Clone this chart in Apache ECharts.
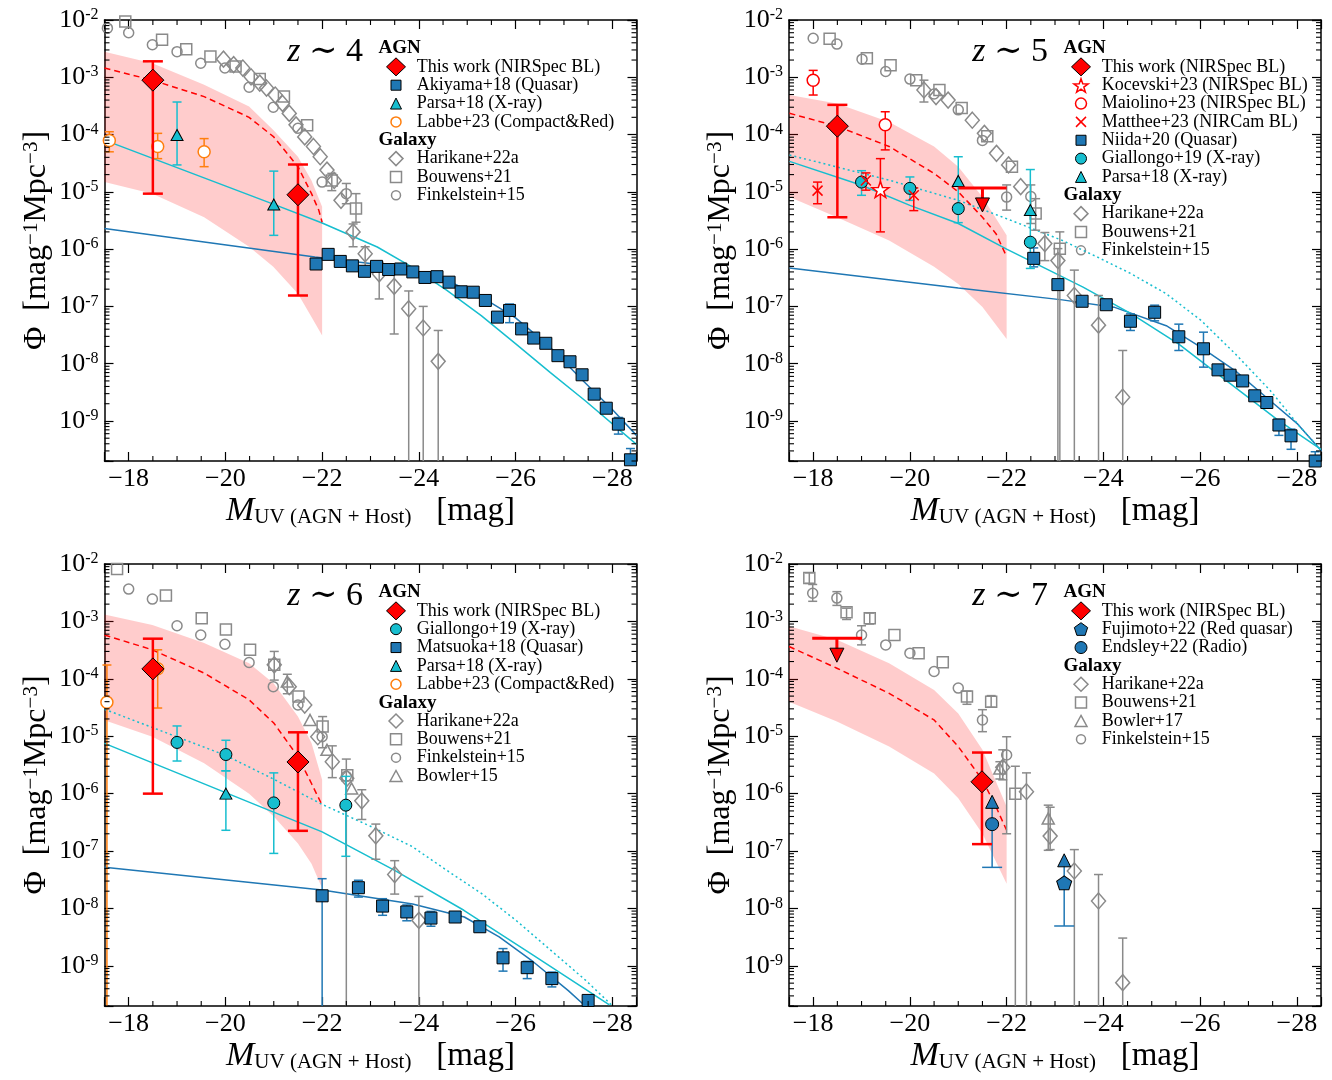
<!DOCTYPE html>
<html><head><meta charset="utf-8">
<script src="https://cdn.jsdelivr.net/npm/echarts@6/dist/echarts.min.js"></script>
<style>html,body{margin:0;padding:0;background:#fff}#c{width:1332px;height:1080px}</style>
</head><body><div id="c"></div>
<script>
// ===================== DATA (M_UV [mag], Phi [mag^-1 Mpc^-3], Phi_lo, Phi_hi) =====================
// ---------- z ~ 4 ----------
const z4_thisWork = [[-18.5, 8.9e-4, 9.3e-6, 1.9e-3], [-21.5, 8.9e-6, 1.55e-7, 3.0e-5]];
const z4_model = [[-17.5,1.45e-3],[-18.49,8.9e-4],[-19.56,4.6e-4],[-20.49,2.0e-4],[-21.0,9.1e-5],[-21.5,2.75e-5],[-21.78,9.3e-6],[-21.93,4.8e-6],[-22.0,2.95e-6]];
const z4_band = [[-17.5,1.48e-5,2.8e-3],[-18.49,9.3e-6,1.76e-3],[-19.56,3.6e-6,7.4e-4],[-20.49,1.1e-6,3.1e-4],[-20.99,4.9e-7,1.2e-4],[-21.5,1.66e-7,4.1e-5],[-21.78,6.5e-8,1.58e-5],[-22.0,3.1e-8,5.5e-6]];
const z4_cyanFit = [[-17.5,8.0e-5],[-20.99,6.1e-6],[-22.0,2.86e-6],[-23.14,1.09e-6],[-23.86,4.85e-7],[-24.58,1.9e-7],[-25.29,6.9e-8],[-26.01,2.2e-8],[-26.72,7.0e-9],[-27.44,2.25e-9],[-28.5,3.9e-10]];
const z4_blueFit = [[-17.5,2.3e-6],[-21.85,7.3e-7],[-23.0,5.6e-7],[-24.0,4.0e-7],[-24.6,2.8e-7],[-25.3,1.45e-7],[-26.0,6.3e-8],[-26.7,2.0e-8],[-27.4,5.0e-9],[-28.0,1.58e-9],[-28.5,5.6e-10]];
const z4_akiyama = [[-21.875,5.5e-7],[-22.125,8.1e-7],[-22.375,6.1e-7],[-22.625,5.1e-7],[-22.875,4.1e-7],[-23.125,5.0e-7],[-23.375,4.4e-7],[-23.625,4.5e-7],[-23.875,4.0e-7],[-24.125,3.2e-7],[-24.375,3.3e-7],[-24.625,2.65e-7],[-24.875,1.8e-7],[-25.125,1.77e-7],[-25.375,1.27e-7],[-25.625,6.5e-8,5.3e-8,7.6e-8],[-25.875,8.5e-8,5.2e-8,1.1e-7],[-26.125,4.05e-8],[-26.375,2.8e-8],[-26.625,2.27e-8],[-26.875,1.38e-8],[-27.125,1.08e-8],[-27.375,6.4e-9],[-27.625,2.94e-9],[-27.875,1.67e-9],[-28.125,8.8e-10,5.9e-10,1.15e-9],[-28.375,2.1e-10,2.0e-10,3.3e-10]];
const z4_parsa = [[-19.0,9.8e-5,2.95e-5,3.7e-4],[-21.0,6.0e-6,1.74e-6,2.3e-5]];
const z4_labbe = [[-17.6,7.9e-5,5.0e-5,1.12e-4],[-18.6,6.2e-5,3.8e-5,1.05e-4],[-19.56,5.0e-5,2.75e-5,8.5e-5]];
const z4_harikane = [[-19.96,2.07e-3],[-20.17,1.66e-3],[-20.36,1.45e-3],[-20.53,1.02e-3],[-20.71,7.9e-4],[-20.85,6.5e-4],[-21.03,4.9e-4],[-21.18,3.5e-4],[-21.32,2.34e-4],[-21.46,1.48e-4],[-21.64,9.1e-5],[-21.82,6.2e-5],[-21.96,4.1e-5],[-22.1,2.4e-5],[-22.25,1.58e-5],[-22.39,7.1e-6],[-22.64,2.0e-6,1.1e-6,2.75e-6],[-22.89,8.3e-7,3.7e-7,1.1e-6],[-23.18,3.7e-7,1.35e-7,5.9e-7],[-23.49,2.24e-7,3.3e-8,3.8e-7],[-23.79,9.1e-8,0,1.86e-7],[-24.09,4.2e-8,0,1.0e-7],[-24.40,1.1e-8,0,3.8e-8]];
const z4_bouwens = [[-17.93,9.4e-3],[-18.69,4.5e-3],[-19.19,3.1e-3],[-19.69,2.3e-3],[-20.21,1.55e-3],[-20.71,9.3e-4],[-21.21,4.6e-4],[-21.69,1.45e-4],[-22.2,1.58e-5,1.05e-5,2.1e-5],[-22.7,5.1e-6,2.95e-6,9.3e-6]];
const z4_finkelstein = [[-17.56,7.2e-3],[-18.0,6.0e-3],[-18.49,3.7e-3],[-19.0,2.8e-3],[-19.49,1.76e-3],[-19.99,1.45e-3],[-20.49,6.7e-4],[-20.99,3.0e-4],[-21.5,1.29e-4],[-22.0,1.48e-5],[-22.5,9.3e-6,6.2e-6,1.4e-5]];

// ---------- z ~ 5 ----------
const z5_thisWork = [[-18.5, 1.4e-4, 3.6e-6, 3.3e-4]];
const z5_thisWorkUL = [[-21.5, 1.17e-5, -21.0, -22.0]]; // [M, Phi upper limit, bin edge, bin edge]
const z5_model = [[-17.51,2.35e-4],[-18.49,1.4e-4],[-19.57,6.2e-5],[-20.5,2.1e-5],[-21.0,1.0e-5],[-21.5,3.6e-6],[-21.78,1.86e-6],[-22.0,7.4e-7]];
const z5_band = [[-17.51,8.1e-6,4.9e-4],[-18.49,3.6e-6,3.5e-4],[-19.57,1.41e-6,1.66e-4],[-20.5,4.9e-7,6.2e-5],[-21.0,2.45e-7,2.75e-5],[-21.5,9.8e-8,8.1e-6],[-22.0,2.7e-8,1.74e-6]];
const z5_cyanFit = [[-17.51,3.4e-5],[-19.0,1.3e-5],[-20.0,5.8e-6],[-21.0,2.8e-6],[-22.0,1.0e-6],[-23.58,2.17e-7],[-24.58,7.4e-8],[-25.56,2.2e-8],[-26.59,4.7e-9],[-27.59,1.07e-9],[-28.5,3.2e-10]];
const z5_cyanDotFit = [[-17.51,4.4e-5],[-19.57,1.6e-5],[-21.0,7.1e-6],[-22.0,3.4e-6],[-23.15,1.42e-6],[-23.87,7.3e-7],[-24.58,3.7e-7],[-25.3,1.66e-7],[-26.02,5.7e-8],[-26.73,1.48e-8],[-27.45,3.4e-9],[-28.02,8.8e-10],[-28.51,3.0e-10]];
const z5_blueFit = [[-17.51,4.7e-7],[-21.0,2.1e-7],[-23.15,1.3e-7],[-24.22,9.7e-8],[-25.3,4.6e-8],[-26.02,1.93e-8],[-26.73,7.5e-9],[-27.45,2.25e-9],[-28.02,8.8e-10],[-28.51,3.0e-10]];
const z5_kocevski = [[-19.39,1.1e-5,2.0e-6,3.8e-5]];
const z5_maiolino = [[-18.0,8.9e-4,4.9e-4,1.32e-3],[-19.49,1.48e-4,5.4e-5,2.5e-4]];
const z5_matthee = [[-18.09,1.05e-5,6.2e-6,1.48e-5],[-19.09,1.58e-5,1.07e-5,2.14e-5],[-20.08,8.7e-6,4.7e-6,1.17e-5]];
const z5_niida = [[-22.56,6.9e-7,4.9e-7,1.05e-6],[-23.06,2.4e-7],[-23.56,1.23e-7],[-24.06,1.07e-7],[-24.56,5.5e-8,3.8e-8,7.4e-8],[-25.06,7.9e-8,5.6e-8,1.05e-7],[-25.56,2.95e-8,1.7e-8,4.9e-8],[-26.07,1.82e-8,8.7e-9,3.55e-8],[-26.37,7.8e-9],[-26.62,6.3e-9],[-26.88,5.0e-9],[-27.13,2.75e-9],[-27.38,2.1e-9],[-27.63,8.5e-10,5.6e-10,1.07e-9],[-27.88,5.5e-10,3.2e-10,7.2e-10],[-28.38,2.0e-10,null,2.9e-10]];
const z5_giallongo = [[-19.0,1.48e-5,8.7e-6,2.34e-5],[-20.0,1.15e-5,7.1e-6,1.82e-5],[-21.0,5.1e-6,2.9e-6,4.1e-5],[-22.49,1.32e-6,4.6e-7,2.45e-5]];
const z5_parsa = [[-21.0,1.55e-5],[-22.49,4.8e-6]];
const z5_harikane = [[-20.29,6.0e-4,3.7e-4,8.9e-4],[-20.54,4.6e-4],[-20.79,4.0e-4],[-21.29,1.78e-4],[-21.54,1.05e-4],[-21.79,4.7e-5],[-22.04,2.95e-5],[-22.29,1.23e-5],[-22.79,1.25e-6,6.3e-7,1.95e-6],[-23.06,6.3e-7,0,1.02e-6],[-23.4,1.55e-7,0,4.3e-7],[-23.9,4.7e-8,0,1.55e-7],[-24.4,2.6e-9,0,1.7e-8]];
const z5_bouwens = [[-18.34,4.7e-3],[-19.11,2.14e-3],[-19.6,1.62e-3],[-20.13,8.9e-4],[-20.61,6.0e-4],[-21.07,2.9e-4],[-21.6,9.3e-5],[-22.11,2.75e-5],[-22.6,4.2e-6,2.14e-6,7.6e-6],[-23.1,1.02e-6,0,2.0e-6]];
const z5_finkelstein = [[-18.0,4.8e-3],[-18.49,3.8e-3],[-19.01,2.07e-3],[-19.5,1.26e-3],[-20.0,9.3e-4],[-20.5,5.1e-4],[-21.0,2.7e-4],[-21.5,7.9e-5],[-22.0,8.1e-6,4.8e-6,1.32e-5],[-22.5,8.3e-6,2.8e-6,1.32e-5]];

// ---------- z ~ 6 ----------
const z6_thisWork = [[-18.5,1.49e-4,1.0e-6,5.0e-4],[-21.5,3.56e-6,2.25e-7,1.17e-5]];
const z6_model = [[-17.5,5.8e-4],[-18.49,3.2e-4],[-19.56,1.26e-4],[-20.49,4.3e-5],[-21.0,1.7e-5],[-21.5,4.4e-6],[-21.78,1.5e-6],[-22.0,6.3e-7]];
const z6_band = [[-17.5,1.9e-5,1.32e-3],[-18.49,9.8e-6,8.7e-4],[-19.56,3.4e-6,4.2e-4],[-20.49,1.0e-6,1.86e-4],[-21.0,4.0e-7,8.3e-5],[-21.5,1.35e-7,2.2e-5],[-21.78,6.0e-8,7.6e-6],[-22.0,2.24e-8,1.74e-6]];
const z6_cyanFit = [[-17.5,7.5e-6],[-22.0,2.16e-7],[-23.5,4.6e-8],[-24.93,9.3e-9],[-26.37,1.52e-9],[-27.94,2.1e-10]];
const z6_cyanDotFit = [[-17.5,2.95e-5],[-18.99,9.8e-6],[-19.99,4.7e-6],[-20.99,1.8e-6],[-22.0,6.5e-7],[-23.0,2.7e-7],[-23.86,1.2e-7],[-24.58,4.6e-8],[-25.3,1.81e-8],[-26.01,6.2e-9],[-26.73,1.86e-9],[-27.45,5.6e-10],[-27.98,2.1e-10]];
const z6_blueFit = [[-17.5,5.2e-8],[-22.0,2.1e-8],[-23.87,1.2e-8],[-24.94,7.1e-9],[-25.66,3.2e-9],[-26.37,1.17e-9],[-27.09,3.7e-10],[-27.44,2.0e-10]];
const z6_giallongo = [[-19.0,7.8e-6,3.7e-6,1.51e-5],[-20.01,4.8e-6,2.5e-6,8.5e-6],[-21.0,6.9e-7,9.1e-8,2.3e-6],[-22.49,6.3e-7,8.1e-8,2.0e-6]];
const z6_parsa = [[-20.01,1.0e-6,2.3e-7,2.5e-6]];
const z6_labbe = [[-17.55,3.9e-5,0,1.74e-4],[-18.6,1.5e-4,3.1e-5,3.2e-4]];
const z6_matsuoka = [[-22.0,1.66e-8,0,3.3e-8],[-22.75,2.3e-8,1.58e-8,3.1e-8],[-23.25,1.1e-8,7.6e-9,1.48e-8],[-23.75,8.7e-9,6.1e-9,1.15e-8],[-24.25,6.8e-9,4.9e-9,8.9e-9],[-24.75,7.1e-9],[-25.26,4.8e-9,3.9e-9,5.9e-9],[-25.74,1.38e-9,8.1e-10,2.0e-9],[-26.24,9.3e-10,6.0e-10,1.2e-9],[-26.75,6.0e-10,4.3e-10,7.8e-10],[-27.5,2.5e-10]];
const z6_harikane = [[-21.01,1.75e-4],[-21.32,7.3e-5],[-21.64,3.5e-5],[-21.91,9.8e-6],[-22.21,3.6e-6,1.9e-6,6.8e-6],[-22.51,1.85e-6],[-22.82,7.5e-7,3.55e-7,1.17e-6],[-23.11,1.84e-7,7.2e-8,2.95e-7],[-23.5,3.9e-8,1.78e-8,6.8e-8],[-24.0,6.2e-9,0,1.62e-8]];
const z6_bouwens = [[-17.76,8.2e-3],[-18.77,2.84e-3],[-19.51,1.14e-3],[-20.01,7.2e-4],[-20.51,3.2e-4],[-21.01,1.75e-4,9.5e-5,3.0e-4],[-21.51,4.9e-5],[-22.01,1.48e-5,6.3e-6,2.2e-5],[-22.52,2.1e-6]];
const z6_finkelstein = [[-18.0,3.66e-3],[-18.49,2.45e-3],[-19.0,8.4e-4],[-19.49,5.8e-4],[-19.99,4.0e-4],[-20.49,1.92e-4],[-20.99,7.3e-5],[-21.5,3.5e-5],[-22.0,9.8e-6],[-22.5,2.0e-6,0,4.0e-6]];
const z6_bowler = [[-21.28,9.0e-5,5.5e-5,1.2e-4],[-21.75,1.92e-5],[-22.1,5.8e-6],[-22.61,1.23e-6]];

// ---------- z ~ 7 ----------
const z7_thisWork = [[-21.49,1.61e-6,1.32e-7,5.2e-6]];
const z7_thisWorkUL = [[-18.49,5.1e-4,-17.98,-19.01]];
const z7_model = [[-17.5,3.66e-4],[-18.49,1.53e-4],[-19.57,5.6e-5],[-20.5,1.92e-5],[-21.0,6.6e-6],[-21.5,1.73e-6],[-21.78,5.9e-7],[-22.0,2.3e-7]];
const z7_band = [[-17.5,4.0e-5,8.2e-4],[-18.49,1.8e-5,4.8e-4],[-19.57,6.6e-6,1.87e-4],[-20.5,2.25e-6,6.4e-5],[-21.0,8.3e-7,2.5e-5],[-21.5,2.0e-7,5.8e-6],[-22.0,2.7e-8,5.9e-7]];
const z7_fujimoto = [[-23.19,2.8e-8,4.95e-9,6.9e-8]]; // [M, Phi, Phi_lo, lower-limit arrow]
const z7_endsley = [[-21.7,2.94e-7,5.2e-8,7.2e-7]];
const z7_harikane = [[-21.92,2.87e-6,1.74e-6,5.8e-6],[-22.41,1.08e-6,0,2.3e-6],[-22.9,1.82e-7,1.06e-7,5.8e-7],[-23.4,4.5e-8,0,1.06e-7],[-23.9,1.35e-8,0,3.9e-8],[-24.4,5.1e-10,0,3.05e-9]];
const z7_bouwens = [[-17.92,5.7e-3,4.6e-3,7.0e-3],[-18.69,1.44e-3,1.08e-3,1.7e-3],[-19.17,1.14e-3,9.0e-4,1.4e-3],[-19.68,5.8e-4],[-20.18,2.8e-4],[-20.68,1.95e-4],[-21.18,4.9e-5,3.6e-5,6.1e-5],[-21.68,4.0e-5,3.2e-5,5.1e-5],[-22.18,1.0e-6,0,3.0e-6]];
const z7_bowler = [[-21.86,2.75e-6,1.8e-6,3.6e-6],[-22.86,3.7e-7,1.03e-7,6.3e-7]];
const z7_finkelstein = [[-17.99,3.1e-3,2.24e-3,4.4e-3],[-18.49,2.55e-3,1.9e-3,3.3e-3],[-19.0,5.8e-4,3.9e-4,8.4e-4],[-19.5,3.9e-4],[-20.0,2.8e-4],[-20.5,1.34e-4],[-21.0,6.9e-5],[-21.5,1.92e-5,1.2e-5,2.9e-5],[-22.0,4.7e-6,2.0e-7,9.8e-6]];

// tick labels / text
const panelLabels = ['4', '5', '6', '7'];
const legendText = [
  [['h','AGN'],['thiswork','This work (NIRSpec BL)'],['quasar','Akiyama+18 (Quasar)'],['parsa','Parsa+18 (X-ray)'],['labbe','Labbe+23 (Compact&Red)'],['h','Galaxy'],['harikane','Harikane+22a'],['bouwens','Bouwens+21'],['finkelstein','Finkelstein+15']],
  [['h','AGN'],['thiswork','This work (NIRSpec BL)'],['kocevski','Kocevski+23 (NIRSpec BL)'],['maiolino','Maiolino+23 (NIRSpec BL)'],['matthee','Matthee+23 (NIRCam BL)'],['quasar','Niida+20 (Quasar)'],['giallongo','Giallongo+19 (X-ray)'],['parsa','Parsa+18 (X-ray)'],['h','Galaxy'],['harikane','Harikane+22a'],['bouwens','Bouwens+21'],['finkelstein','Finkelstein+15']],
  [['h','AGN'],['thiswork','This work (NIRSpec BL)'],['giallongo','Giallongo+19 (X-ray)'],['quasar','Matsuoka+18 (Quasar)'],['parsa','Parsa+18 (X-ray)'],['labbe','Labbe+23 (Compact&Red)'],['h','Galaxy'],['harikane','Harikane+22a'],['bouwens','Bouwens+21'],['finkelstein','Finkelstein+15'],['bowler','Bowler+15']],
  [['h','AGN'],['thiswork','This work (NIRSpec BL)'],['fujimoto','Fujimoto+22 (Red quasar)'],['endsley','Endsley+22 (Radio)'],['h','Galaxy'],['harikane','Harikane+22a'],['bouwens','Bouwens+21'],['bowler','Bowler+17'],['finkelstein','Finkelstein+15']],
];

// ===================== STYLE / LAYOUT =====================
const FONT = '"Liberation Serif", "Times New Roman", "DejaVu Serif", serif';
const C = {red:'#ff0000', cyan:'#17becf', blue:'#1f77b4', orange:'#ff7f0e', gray:'#8a8a8a', band:'rgba(255,0,0,0.2)'};
const GRIDS = [
  {left:104.5, top:20, width:532, height:441},
  {left:789, top:20, width:532, height:441},
  {left:104.5, top:564, width:532, height:442},
  {left:789, top:564, width:532, height:442},
];
const LEGPOS = [{x:378.5, y:48.5},{x:1063.5, y:48.5},{x:378.5, y:592.5},{x:1063.5, y:592.5}];
const ZPOS = [{x:363, y:52},{x:1048, y:52},{x:363, y:596},{x:1048, y:596}];

function regPoly(n, cx, cy, R, r) {
  const pts = [];
  const m = r ? 2*n : n;
  for (let k = 0; k < m; k++) {
    const a = -Math.PI/2 + k*2*Math.PI/m;
    const rr = (r && k%2) ? r : R;
    pts.push([cx + rr*Math.cos(a), cy + rr*Math.sin(a)]);
  }
  return pts;
}
function toPath(pts) { return 'path://' + pts.map((p,k)=>(k?'L':'M')+p[0].toFixed(2)+','+p[1].toFixed(2)).join('') + 'Z'; }
const SYM = {
  diamond:'diamond', rect:'rect', triangle:'triangle', circle:'circle',
  star: toPath(regPoly(5, 50, 50, 50, 20)),
  pentagon: toPath(regPoly(5, 50, 50, 50)),
  x: 'path://M0,0L10,10M10,0L0,10',
};
const STY = {
  thiswork:   {shape:'diamond', size:[22,22], leg:[19,18], fill:C.red, stroke:'#000', lw:1},
  quasar:     {shape:'rect', size:12, leg:[10,10], fill:C.blue, stroke:'#000', lw:1},
  parsa:      {shape:'triangle', size:[12,11], leg:[11,11], fill:C.cyan, stroke:'#000', lw:1},
  labbe:      {shape:'circle', size:12, leg:[10,10], fill:'#fff', stroke:C.orange, lw:1.5},
  giallongo:  {shape:'circle', size:12, leg:[11,11], fill:C.cyan, stroke:'#000', lw:1},
  kocevski:   {shape:'star', size:[17,16], leg:[15,14], fill:'#fff', stroke:C.red, lw:1.5},
  maiolino:   {shape:'circle', size:12, leg:[11,11], fill:'#fff', stroke:C.red, lw:1.5},
  matthee:    {shape:'x', size:10, leg:[10,10], fill:'rgba(0,0,0,0)', stroke:C.red, lw:1.5},
  fujimoto:   {shape:'pentagon', size:[15,14], leg:[14,13], fill:C.blue, stroke:'#000', lw:1},
  endsley:    {shape:'circle', size:13, leg:[12,12], fill:C.blue, stroke:'#000', lw:1},
  harikane:   {shape:'diamond', size:[14,16], leg:[14,14], fill:'rgba(0,0,0,0)', stroke:C.gray, lw:1.5},
  bouwens:    {shape:'rect', size:11, leg:[11,11], fill:'rgba(0,0,0,0)', stroke:C.gray, lw:1.5},
  finkelstein:{shape:'circle', size:10, leg:[9,9], fill:'rgba(0,0,0,0)', stroke:C.gray, lw:1.5},
  bowler:     {shape:'triangle', size:[12,11], leg:[12,11], fill:'rgba(0,0,0,0)', stroke:C.gray, lw:1.5},
  limitBlue:  {shape:'triangle', size:[13,13], leg:[12,12], fill:C.blue, stroke:'#000', lw:1},
};

// ===================== BUILD =====================
const series = [];
const graphic = [];

function addPoints(gi, data, key, z) {
  const s = STY[key];
  series.push({type:'scatter', xAxisIndex:gi, yAxisIndex:gi, z, silent:true, animation:false,
    symbol: SYM[s.shape], symbolSize: s.size,
    itemStyle:{color:s.fill, borderColor:s.stroke, borderWidth:s.lw, opacity:1},
    data: data.map(d => [d[0], d[1]])});
}
function errRender(color, lw, cap, capTop, capBot) {
  return function(params, api) {
    const cs = params.coordSys;
    const m = api.value(0), lo = api.value(1), hi = api.value(2);
    const yb = cs.y + cs.height, yt = cs.y;
    const pTop = api.coord([m, hi]);
    const px = pTop[0];
    let top = pTop[1];
    let bot = lo > 0 ? api.coord([m, lo])[1] : yb + 10;
    const topIn = top >= yt - 0.5 && top <= yb;
    const botIn = bot >= yt && bot <= yb + 0.5;
    top = Math.max(yt, Math.min(yb, top));
    bot = Math.max(yt, Math.min(yb, bot));
    const st = {stroke:color, lineWidth:lw};
    const ch = [{type:'line', shape:{x1:px, y1:top, x2:px, y2:bot}, style:st}];
    if (capTop && topIn) ch.push({type:'line', shape:{x1:px-cap, y1:top, x2:px+cap, y2:top}, style:st});
    if (capBot && botIn) ch.push({type:'line', shape:{x1:px-cap, y1:bot, x2:px+cap, y2:bot}, style:st});
    return {type:'group', children:ch};
  };
}
function addErr(gi, data, color, lw, cap, z, capTop = true, capBot = true) {
  const rows = data.filter(d => d.length > 2 && (d[2] != null || d[3] != null))
    .map(d => [d[0], d[2] == null ? d[1] : d[2], d[3] == null ? d[1] : d[3]]);
  if (!rows.length) return;
  series.push({type:'custom', xAxisIndex:gi, yAxisIndex:gi, z, silent:true, animation:false,
    data: rows, encode:{x:0, y:2}, renderItem: errRender(color, lw, cap, capTop, capBot)});
}
function addLine(gi, data, color, type, z) {
  series.push({type:'line', xAxisIndex:gi, yAxisIndex:gi, z, silent:true, animation:false,
    data, symbol:'none', showSymbol:false, smooth:false,
    lineStyle:{color, width:1.5, type}});
}
function addBand(gi, data) {
  series.push({type:'custom', xAxisIndex:gi, yAxisIndex:gi, z:1, silent:true, animation:false,
    data, encode:{x:0, y:[1,2]},
    renderItem(params, api) {
      if (params.dataIndex !== 0) return null;
      const up = data.map(d => api.coord([d[0], d[2]]));
      const lo = data.map(d => api.coord([d[0], d[1]])).reverse();
      return {type:'polygon', shape:{points: up.concat(lo)}, style:{fill:C.band}};
    }});
}
function addUpperLimit(gi, data, z) {
  series.push({type:'custom', xAxisIndex:gi, yAxisIndex:gi, z, silent:true, animation:false,
    data, encode:{x:0, y:1},
    renderItem(params, api) {
      const p = api.coord([api.value(0), api.value(1)]);
      const a = api.coord([api.value(2), api.value(1)]);
      const b = api.coord([api.value(3), api.value(1)]);
      const st = {stroke:C.red, lineWidth:3};
      return {type:'group', children:[
        {type:'line', shape:{x1:a[0], y1:p[1], x2:b[0], y2:p[1]}, style:st},
        {type:'line', shape:{x1:p[0], y1:p[1], x2:p[0], y2:p[1]+12}, style:st},
        {type:'polygon', shape:{points:[[p[0]-7,p[1]+10],[p[0]+7,p[1]+10],[p[0],p[1]+24]]}, style:{fill:C.red, stroke:'#000', lineWidth:1}},
      ]};
    }});
}
function addFrame(gi) {
  series.push({type:'custom', xAxisIndex:gi, yAxisIndex:gi, z:20, silent:true, animation:false,
    data:[[-20, 1e-5]], encode:{x:0, y:1},
    renderItem(params, api) {
      const cs = params.coordSys, ch = [], st = {stroke:'#000', lineWidth:1.1};
      for (let m = -28; m <= -18; m += 0.5) {
        if (Math.abs(m/2 - Math.round(m/2)) < 1e-9) continue;
        const x = api.coord([m, 1e-5])[0];
        ch.push({type:'line', shape:{x1:x, y1:cs.y+cs.height, x2:x, y2:cs.y+cs.height-5}, style:st});
        ch.push({type:'line', shape:{x1:x, y1:cs.y, x2:x, y2:cs.y+5}, style:st});
      }
      for (let e = -10; e <= -3; e++) for (let k = 2; k <= 9; k++) {
        const v = k*Math.pow(10, e);
        if (v < 2e-10 || v > 1e-2) continue;
        const y = api.coord([-20, v])[1];
        ch.push({type:'line', shape:{x1:cs.x, y1:y, x2:cs.x+5, y2:y}, style:st});
        ch.push({type:'line', shape:{x1:cs.x+cs.width-5, y1:y, x2:cs.x+cs.width, y2:y}, style:st});
      }
      return {type:'group', children:ch};
    }});
}

// Panel z~4
addBand(0, z4_band);
addLine(0, z4_blueFit, C.blue, 'solid', 2);
addLine(0, z4_cyanFit, C.cyan, 'solid', 2);
addLine(0, z4_model, C.red, [6,4], 2);
addErr(0, z4_harikane, C.gray, 1.5, 4.5, 3); addErr(0, z4_bouwens, C.gray, 1.5, 4.5, 3); addErr(0, z4_finkelstein, C.gray, 1.5, 4.5, 3);
addPoints(0, z4_finkelstein, 'finkelstein', 4); addPoints(0, z4_bouwens, 'bouwens', 4); addPoints(0, z4_harikane, 'harikane', 4);
addErr(0, z4_akiyama, C.blue, 1.5, 4.5, 5); addErr(0, z4_parsa, C.cyan, 1.5, 4.5, 5); addErr(0, z4_labbe, C.orange, 1.5, 4.5, 5);
addPoints(0, z4_akiyama, 'quasar', 6); addPoints(0, z4_parsa, 'parsa', 6); addPoints(0, z4_labbe, 'labbe', 6);
addErr(0, z4_thisWork, C.red, 2.5, 10, 7); addPoints(0, z4_thisWork, 'thiswork', 8);

// Panel z~5
addBand(1, z5_band);
addLine(1, z5_blueFit, C.blue, 'solid', 2);
addLine(1, z5_cyanFit, C.cyan, 'solid', 2);
addLine(1, z5_cyanDotFit, C.cyan, [2,3], 2);
addLine(1, z5_model, C.red, [6,4], 2);
addErr(1, z5_harikane, C.gray, 1.5, 4.5, 3); addErr(1, z5_bouwens, C.gray, 1.5, 4.5, 3); addErr(1, z5_finkelstein, C.gray, 1.5, 4.5, 3);
addPoints(1, z5_finkelstein, 'finkelstein', 4); addPoints(1, z5_bouwens, 'bouwens', 4); addPoints(1, z5_harikane, 'harikane', 4);
addErr(1, z5_niida, C.blue, 1.5, 4.5, 5); addErr(1, z5_giallongo, C.cyan, 1.5, 4.5, 5);
addErr(1, z5_kocevski, C.red, 1.5, 4.5, 5); addErr(1, z5_maiolino, C.red, 1.5, 4.5, 5); addErr(1, z5_matthee, C.red, 1.5, 4.5, 5);
addPoints(1, z5_niida, 'quasar', 6); addPoints(1, z5_giallongo, 'giallongo', 6); addPoints(1, z5_parsa, 'parsa', 6);
addPoints(1, z5_kocevski, 'kocevski', 6); addPoints(1, z5_maiolino, 'maiolino', 6); addPoints(1, z5_matthee, 'matthee', 6);
addUpperLimit(1, z5_thisWorkUL, 7);
addErr(1, z5_thisWork, C.red, 2.5, 10, 7); addPoints(1, z5_thisWork, 'thiswork', 8);

// Panel z~6
addBand(2, z6_band);
addLine(2, z6_blueFit, C.blue, 'solid', 2);
addLine(2, z6_cyanFit, C.cyan, 'solid', 2);
addLine(2, z6_cyanDotFit, C.cyan, [2,3], 2);
addLine(2, z6_model, C.red, [6,4], 2);
addErr(2, z6_harikane, C.gray, 1.5, 4.5, 3); addErr(2, z6_bouwens, C.gray, 1.5, 4.5, 3); addErr(2, z6_finkelstein, C.gray, 1.5, 4.5, 3); addErr(2, z6_bowler, C.gray, 1.5, 4.5, 3);
addPoints(2, z6_finkelstein, 'finkelstein', 4); addPoints(2, z6_bouwens, 'bouwens', 4); addPoints(2, z6_harikane, 'harikane', 4); addPoints(2, z6_bowler, 'bowler', 4);
addErr(2, z6_matsuoka, C.blue, 1.5, 4.5, 5); addErr(2, z6_giallongo, C.cyan, 1.5, 4.5, 5); addErr(2, z6_parsa, C.cyan, 1.5, 4.5, 5); addErr(2, z6_labbe, C.orange, 1.5, 4.5, 5);
addPoints(2, z6_labbe, 'labbe', 6); addPoints(2, z6_matsuoka, 'quasar', 6); addPoints(2, z6_giallongo, 'giallongo', 6); addPoints(2, z6_parsa, 'parsa', 6);
addErr(2, z6_thisWork, C.red, 2.5, 10, 7); addPoints(2, z6_thisWork, 'thiswork', 8);

// Panel z~7
addBand(3, z7_band);
addLine(3, z7_model, C.red, [6,4], 2);
addErr(3, z7_harikane, C.gray, 1.5, 4.5, 3); addErr(3, z7_bouwens, C.gray, 1.5, 4.5, 3); addErr(3, z7_finkelstein, C.gray, 1.5, 4.5, 3); addErr(3, z7_bowler, C.gray, 1.5, 4.5, 3);
addPoints(3, z7_finkelstein, 'finkelstein', 4); addPoints(3, z7_bouwens, 'bouwens', 4); addPoints(3, z7_harikane, 'harikane', 4); addPoints(3, z7_bowler, 'bowler', 4);
addErr(3, z7_endsley, C.blue, 1.5, 10, 5, false, true); addErr(3, z7_fujimoto, C.blue, 1.5, 10, 5, false, true);
addPoints(3, z7_endsley.map(d => [d[0], d[3]]), 'limitBlue', 6); addPoints(3, z7_fujimoto.map(d => [d[0], d[3]]), 'limitBlue', 6);
addPoints(3, z7_endsley, 'endsley', 6); addPoints(3, z7_fujimoto, 'fujimoto', 6);
addUpperLimit(3, z7_thisWorkUL, 7);
addErr(3, z7_thisWork, C.red, 2.5, 10, 7); addPoints(3, z7_thisWork, 'thiswork', 8);

for (let i = 0; i < 4; i++) addFrame(i);

// ---- legends & panel labels (graphic) ----
function legendIcon(key, cx, cy) {
  const s = STY[key], w = s.leg[0], h = s.leg[1];
  const style = {fill:s.fill, stroke:s.stroke, lineWidth:s.lw};
  switch (s.shape) {
    case 'diamond': return {type:'polygon', shape:{points:[[cx,cy-h/2],[cx+w/2,cy],[cx,cy+h/2],[cx-w/2,cy]]}, style};
    case 'rect': return {type:'rect', shape:{x:cx-w/2, y:cy-h/2, width:w, height:h}, style};
    case 'triangle': return {type:'polygon', shape:{points:[[cx,cy-h/2],[cx+w/2,cy+h/2],[cx-w/2,cy+h/2]]}, style};
    case 'circle': return {type:'circle', shape:{cx, cy, r:w/2}, style};
    case 'star': return {type:'polygon', shape:{points:regPoly(5, cx, cy+1, w/2, w/5)}, style};
    case 'pentagon': return {type:'polygon', shape:{points:regPoly(5, cx, cy+0.5, w/2)}, style};
    case 'x': return {type:'group', children:[
      {type:'line', shape:{x1:cx-w/2, y1:cy-h/2, x2:cx+w/2, y2:cy+h/2}, style:{stroke:s.stroke, lineWidth:s.lw}},
      {type:'line', shape:{x1:cx+w/2, y1:cy-h/2, x2:cx-w/2, y2:cy+h/2}, style:{stroke:s.stroke, lineWidth:s.lw}}]};
  }
}
legendText.forEach((rows, pi) => {
  const P = LEGPOS[pi];
  rows.forEach((r, k) => {
    const y = P.y + k*18.35;
    if (r[0] === 'h') {
      graphic.push({type:'text', x:P.x, y, silent:true, style:{text:r[1], fontFamily:FONT, fontSize:19, fontWeight:'bold', fill:'#000', align:'left', verticalAlign:'middle'}});
    } else {
      graphic.push(Object.assign(legendIcon(r[0], P.x + 17.5, y), {silent:true}));
      graphic.push({type:'text', x:P.x + 38.2, y, silent:true, style:{text:r[1], fontFamily:FONT, fontSize:18, fill:'#000', align:'left', verticalAlign:'middle'}});
    }
  });
  const Z = ZPOS[pi];
  graphic.push({type:'text', x:Z.x, y:Z.y, silent:true, style:{text:'{i|z} \u223C ' + panelLabels[pi], fontFamily:FONT, fontSize:34, fill:'#000', align:'right', verticalAlign:'middle',
    rich:{i:{fontFamily:FONT, fontSize:34, fontStyle:'italic'}}}});
});

// ---- axes ----
const xFmt = v => { const r = Math.round(v); if (Math.abs(v - r) > 1e-6 || r % 2 !== 0) return ''; return '\u2212' + Math.abs(r); };
const yFmt = v => { const e = Math.log10(v), r = Math.round(e); if (Math.abs(e - r) > 1e-6) return ''; return '{b|10}{s|' + r + '}'; };
const xAxis = [], yAxis = [];
const lineSt = {color:'#000', width:1.5};
for (let i = 0; i < 4; i++) {
  xAxis.push({type:'value', gridIndex:i, position:'bottom', min:-28.5, max:-17.5, inverse:true, splitNumber:5, minInterval:2, maxInterval:2,
    axisLine:{show:true, onZero:false, lineStyle:lineSt},
    axisTick:{show:true, inside:true, length:9, lineStyle:{color:'#000', width:1.2}},
    axisLabel:{show:true, margin:5, color:'#000', fontFamily:FONT, fontSize:26, formatter:xFmt, showMinLabel:true, showMaxLabel:true, hideOverlap:false},
    splitLine:{show:false}, minorTick:{show:false},
    name:'{m|M}{u|UV (AGN + Host)}{t|   [mag]}', nameLocation:'middle', nameGap:33,
    nameTextStyle:{color:'#000', rich:{m:{fontFamily:FONT, fontSize:34, fontStyle:'italic', color:'#000'}, u:{fontFamily:FONT, fontSize:21, color:'#000', verticalAlign:'bottom'}, t:{fontFamily:FONT, fontSize:33, color:'#000'}}}});
}
for (let i = 0; i < 4; i++) {
  xAxis.push({type:'value', gridIndex:i, position:'top', min:-28.5, max:-17.5, inverse:true, splitNumber:5, minInterval:2, maxInterval:2,
    axisLine:{show:true, onZero:false, lineStyle:lineSt},
    axisTick:{show:true, inside:true, length:9, lineStyle:{color:'#000', width:1.2}},
    axisLabel:{show:false}, splitLine:{show:false}});
}
for (let i = 0; i < 4; i++) {
  yAxis.push({type:'log', logBase:10, gridIndex:i, position:'left', min:2e-10, max:1e-2,
    axisLine:{show:true, onZero:false, lineStyle:lineSt},
    axisTick:{show:true, inside:true, length:9, lineStyle:{color:'#000', width:1.2}},
    axisLabel:{show:true, margin:6, formatter:yFmt, showMinLabel:true, showMaxLabel:true, hideOverlap:false,
      rich:{b:{fontFamily:FONT, fontSize:26, color:'#000'}, s:{fontFamily:FONT, fontSize:16, color:'#000', verticalAlign:'top'}}},
    splitLine:{show:false},
    name:'{t|\u03A6  [mag}{s|\u22121}{t|Mpc}{s|\u22123}{t|]}', nameLocation:'middle', nameGap:52,
    nameTextStyle:{color:'#000', rich:{t:{fontFamily:FONT, fontSize:32, color:'#000'}, s:{fontFamily:FONT, fontSize:21, color:'#000', verticalAlign:'top'}}}});
}
for (let i = 0; i < 4; i++) {
  yAxis.push({type:'log', logBase:10, gridIndex:i, position:'right', min:2e-10, max:1e-2,
    axisLine:{show:true, onZero:false, lineStyle:lineSt},
    axisTick:{show:true, inside:true, length:9, lineStyle:{color:'#000', width:1.2}},
    axisLabel:{show:false}, splitLine:{show:false}});
}

const option = {
  animation:false, backgroundColor:'#fff',
  grid: GRIDS.map(g => Object.assign({containLabel:false, outerBoundsMode:'none', show:false}, g)),
  xAxis, yAxis, series, graphic,
};
const chart = echarts.init(document.getElementById('c'), null, {renderer:'canvas'});
chart.setOption(option);
</script></body></html>
